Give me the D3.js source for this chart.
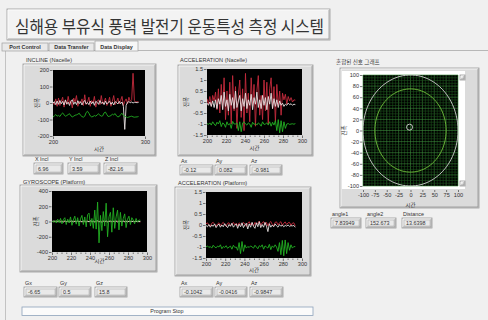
<!DOCTYPE html>
<html><head><meta charset="utf-8">
<script src="https://cdn.jsdelivr.net/npm/d3@7"></script>
<style>
body{margin:0;background:#f0f0f0;}
svg{display:block;}
text{font-family:"Liberation Sans",Arial,sans-serif;fill:#333;}
.kr{font-family:"Noto Sans CJK KR",sans-serif;}
</style></head><body>
<svg id="panel" width="488" height="320"></svg>
<script>
// ---- data ----------------------------------------------------------------
const sampleTimes = [200, 201.5, 203, 204.5, 206, 207.5, 209, 210.5, 212, 213.5,
  215, 216.5, 218, 219.5, 221, 222.5, 224, 225.5, 227, 228.5,
  230, 231.5, 233, 234.5, 236, 237.5, 239, 240.5, 242, 243.5,
  245, 246.5, 248, 249.5, 251, 252.5, 254, 255.5, 257, 258.5,
  260, 261.5, 263, 264.5, 266, 267.5, 269, 270.5, 272, 273.5,
  275, 276.5, 278, 279.5, 281, 282.5, 284, 285.5, 287, 288.5,
  290, 291.5, 293];

// INCLINE (Nacelle), degrees
const inclineX = [5, -10, 25, -20, 30, -15, 10, 35, -25, 20,
  -10, 40, -5, 15, -30, 30, 5, 45, -20, 10,
  0, 25, -15, 50, -10, 5, 35, -20, 15, 0,
  40, -25, 10, 20, -10, 45, -5, 5, 30, -15,
  0, 35, -20, 10, 45, -10, 5, 30, -5, 15,
  40, -15, 10, 25, -5, 35, 10, 20, 180, 15,
  5, 8, 6.96];
const inclineY = [0, 8, -10, 12, -8, 15, -5, 10, -12, 18,
  -6, 5, -15, 10, 20, -8, 6, -10, 14, -4,
  8, -12, 5, 16, -6, 3, -10, 12, -5, 8,
  -14, 10, 4, -8, 15, -3, 6, -10, 12, -6,
  4, 10, -8, 5, -12, 8, 3, -6, 10, -4,
  6, -20, -160, -15, 5, 8, 2, 6, 0, 4,
  3, 2, 3.59];
const inclineZ = [-85, -78, -70, -80, -75, -82, -68, -60, -72, -80,
  -76, -70, -65, -78, -84, -80, -74, -72, -68, -62,
  -75, -82, -86, -80, -58, -50, -62, -78, -84, -82,
  -76, -80, -72, -66, -74, -80, -78, -60, -55, -70,
  -82, -80, -76, -68, -72, -64, -78, -84, -82, -70,
  -62, -76, -80, -84, -88, -85, -82, -80, -84, -86,
  -85, -84, -82.16];

// ACCELERATION (Nacelle), g
const nacAx = [-0.05, -0.15, 0.0, -0.2, 0.05, -0.25, 0.1, -0.3, 0.15, -0.1,
  0.3, -0.35, 0.45, -0.2, 0.1, -0.4, 0.35, -0.15, 0.2, -0.3,
  0.5, -0.25, 0.05, 0.3, -0.4, 0.15, -0.2, 0.4, -0.3, 0.1,
  -0.15, 0.35, -0.35, 0.2, -0.1, 0.45, -0.25, 0.1, -0.3, 0.3,
  -0.15, 0.2, -0.35, 0.25, -0.1, 0.4, -0.3, 0.15, -0.2, 0.1,
  -0.25, 0.05, -0.15, -0.05, -0.2, -0.1, -0.15, -0.05, -0.12, -0.08,
  -0.15, -0.1, -0.12];
const nacAy = [0.15, -0.1, 0.25, -0.2, 0.3, 0.05, 0.45, -0.35, 0.6, -0.5,
  0.8, -0.3, 1.1, -0.8, 0.5, -0.6, 0.9, -1.0, 1.2, -0.4,
  0.7, -1.2, 0.3, 1.0, -0.7, 0.6, -1.3, 1.3, -0.5, 0.4,
  -0.9, 1.1, -0.2, 0.8, -1.1, 0.5, 1.2, -0.6, 0.3, -0.8,
  1.0, -0.4, 0.9, -1.0, 0.6, 1.1, -0.3, 0.7, -0.9, 0.8,
  -0.2, 0.5, -0.6, 0.4, 0.1, 0.35, -0.1, 0.25, 0.05, 0.2,
  0.0, 0.1, 0.082];
const nacAz = [-0.98, -1.02, -0.95, -1.05, -0.9, -1.0, -1.08, -0.92, -1.0, -0.85,
  -1.12, -0.95, -1.0, -1.15, -0.9, -1.05, -0.98, -1.2, -0.88, -1.0,
  -1.0, -0.95, -1.3, -0.9, -1.35, -0.95, -0.9, -1.0, -1.05, -0.95,
  -1.0, -1.15, -0.92, -1.02, -0.98, -1.05, -0.95, -1.0, -1.1, -0.9,
  -1.02, -1.0, -0.95, -1.05, -0.9, -1.1, -0.92, -1.05, -0.85, -1.3,
  -0.8, -1.4, -0.85, -1.35, -0.9, -1.2, -1.0, -0.98, -1.02, -1.0,
  -0.99, -1.01, -0.981];

// GYROSCOPE (Platform), deg/s
const gyroX = [2, -3, 4, -2, 3, -4, 2, 5, -3, 2,
  -4, 3, 1, -2, 4, -3, 5, -2, 3, -1,
  4, -3, 2, -4, 3, 5, -2, 3, -4, 2,
  -3, 4, -2, 5, -3, 2, 4, -2, 3, -4,
  2, -3, 4, -1, 3, -2, 5, -3, 2, -4,
  3, -2, 4, -3, 2, -1, 3, -2, 1, 2,
  -1, 1, -6.65];
const gyroY = [0, 5, -4, 6, -3, 8, -5, 4, -6, 7,
  -2, 5, -8, 3, 6, -4, 2, -6, 8, -3,
  5, -5, 4, 6, -7, 3, -4, 8, -2, 5,
  -6, 4, 10, -8, 6, -12, 5, -4, 8, -6,
  3, 6, -5, 4, -3, 7, -6, 5, 2, -4,
  6, -3, 4, -5, 3, 2, -2, 4, -3, 2,
  1, -2, 0.5];
const gyroZ = [5, -10, 15, -20, 30, -15, 40, -30, 25, 50,
  -40, 30, -15, 60, -50, 20, 70, -35, 50, -60,
  35, 80, -40, 60, -70, 90, 110, -60, 40, -90,
  150, -100, 255, -280, 80, -120, 130, -60, 240, -200,
  60, 120, -140, 180, -90, 60, 150, -110, 120, -60,
  40, 100, -80, 30, 70, -40, 50, 20, -30, 40,
  -10, 20, 15.8];

// ACCELERATION (Platform), g
const platAx = [-0.02, -0.08, 0.02, -0.1, 0.0, -0.06, 0.05, -0.12, -0.02, 0.04,
  -0.1, 0.0, -0.08, 0.06, -0.05, -0.12, 0.02, -0.06, 0.08, -0.1,
  -0.02, 0.05, -0.15, 0.04, -0.08, 0.1, -0.12, 0.0, 0.08, -0.18,
  0.05, -0.1, 0.12, -0.06, -0.15, 0.1, -0.08, 0.15, -0.12, 0.02,
  -0.1, 0.12, -0.05, -0.3, 0.06, -0.1, 0.0, -0.08, 0.05, -0.04,
  -0.1, 0.02, -0.06, 0.0, -0.08, -0.02, -0.05, 0.0, -0.06, -0.03,
  -0.04, -0.02, -0.1042];
const platAy = [0.05, 0.1, 0.0, -0.05, 0.08, 0.12, 0.02, -0.06, 0.05, 0.1,
  -0.02, 0.06, 0.12, 0.0, -0.05, 0.08, 0.1, -0.04, 0.05, 0.12,
  0.0, 0.08, -0.05, 0.1, 0.04, -0.02, 0.12, 0.05, -0.06, 0.08,
  0.15, 0.0, 0.1, -0.05, 0.12, 0.02, 0.08, 0.18, -0.02, 0.1,
  0.15, 0.0, 0.12, -0.05, 0.1, 0.16, 0.02, -0.04, 0.12, 0.14,
  0.0, 0.1, 0.15, -0.02, 0.08, 0.14, 0.02, 0.1, 0.12, -0.02,
  0.08, 0.1, -0.0416];
const platAz = [-1.0, -0.95, -1.02, -0.98, -1.05, -0.92, -1.0, -1.04, -0.96, -1.0,
  -0.9, -1.08, -0.98, -1.02, -0.94, -1.06, -1.0, -0.96, -1.1, -0.92,
  -1.02, -1.0, -1.15, -0.8, -1.3, -0.75, -1.2, -0.9, -1.05, -0.98,
  -1.02, -0.95, -1.0, -1.05, -0.92, -1.0, -1.08, -0.94, -1.0, -0.9,
  -1.1, -0.95, -1.0, -1.05, -0.88, -1.12, -0.95, -1.02, -0.9, -1.0,
  -1.2, -0.8, -1.35, -0.7, -1.4, -0.68, -1.3, -0.8, -1.15, -0.9,
  -1.05, -0.98, -0.9847];

// axis ticks
const timeTicksWide = [200, 300];
const timeTicks = [200, 220, 240, 260, 280, 300];
const inclineTicks = [-200, -100, 0, 100, 200];
const accelTicks = [-1.5, -1, -0.5, 0, 0.5, 1, 1.5];
const gyroTicks = [-400, -200, 0, 200, 400];
const mixXTicks = [-100, -75, -50, -25, 0, 25, 50, 75, 100];
const mixYTicks = [-100, -80, -60, -40, -20, 0, 20, 40, 60, 80, 100];

// mixed signal graph
const ringRadii = [100, 75];
const markerPoint = [-2, 6];
const angleLabels = ["angle1", "angle2", "Distance"];
const angleValues = ["7.83949", "152.673", "13.6398"];

// ---- drawing -------------------------------------------------------------
const svg = d3.select("#panel");
const RED = "#c42a3c", WHITE = "#e6e0e0", GREEN = "#22b022";

svg.append("rect").attr("width", 488).attr("height", 320).attr("fill", "#f0f0f0");

// raised / sunken box helper
function bevel(g, x, y, w, h, fill, raised) {
  g.append("rect").attr("x", x).attr("y", y).attr("width", w).attr("height", h)
    .attr("fill", fill).attr("stroke", "#9a9a9a").attr("stroke-width", 0.8);
  const lt = raised ? "#ffffff" : "#8a8a8a", rb = raised ? "#8a8a8a" : "#ffffff";
  g.append("path").attr("d", `M${x + 1},${y + h - 1}V${y + 1}H${x + w - 1}`)
    .attr("fill", "none").attr("stroke", lt).attr("stroke-width", 0.7);
  g.append("path").attr("d", `M${x + 1},${y + h - 1}H${x + w - 1}V${y + 1}`)
    .attr("fill", "none").attr("stroke", rb).attr("stroke-width", 0.7);
}

// header
const head = svg.append("g");
bevel(head, 7, 9, 323, 31, "#f3f3f3", true);
head.append("text").attr("class", "kr").attr("x", 15).attr("y", 33)
  .attr("font-size", 17).attr("fill", "#333").attr("textLength", 309)
  .attr("lengthAdjust", "spacingAndGlyphs").text("심해용 부유식 풍력 발전기 운동특성 측정 시스템");

// tabs
svg.append("path").attr("d", "M6,50.5H488").attr("stroke", "#a8a8a8").attr("stroke-width", 0.8);
svg.append("path").attr("d", "M5.5,50V320").attr("stroke", "#b8b8b8").attr("stroke-width", 0.8);
const tabs = [
  { label: "Port Control", x0: 2, x1: 48, active: false },
  { label: "Data Transfer", x0: 49, x1: 94, active: false },
  { label: "Data Display", x0: 95, x1: 138, active: true }
];
tabs.forEach(t => {
  const y0 = t.active ? 41 : 43;
  svg.append("rect").attr("x", t.x0).attr("y", y0).attr("width", t.x1 - t.x0).attr("height", 51 - y0)
    .attr("fill", t.active ? "#f7f7f7" : "#e9e9e9").attr("stroke", "#a0a0a0").attr("stroke-width", 0.7);
  svg.append("text").attr("x", (t.x0 + t.x1) / 2).attr("y", 48.7).attr("text-anchor", "middle")
    .attr("font-size", 5.4).attr("font-weight", "bold").attr("fill", "#222").text(t.label);
});

function styleAxis(sel) {
  sel.select(".domain").remove();
  sel.selectAll("line").attr("stroke", "#444").attr("stroke-width", 0.7);
  sel.selectAll("text").attr("font-size", 5.6).attr("fill", "#333")
    .attr("font-family", "Liberation Sans, Arial, sans-serif");
}

function indicator(g, label, value, bx, by, bw, bh) {
  g.append("text").attr("x", bx + 1).attr("y", by - 2.5).attr("font-size", 5.4).text(label);
  bevel(g, bx, by, bw, bh, "#e4e4e4", true);
  g.append("rect").attr("x", bx + 2).attr("y", by + 2).attr("width", bw - 4).attr("height", bh - 4)
    .attr("fill", "#e9e9e9").attr("stroke", "#a8a8a8").attr("stroke-width", 0.5);
  g.append("text").attr("x", bx + 4).attr("y", by + bh - 3).attr("font-size", 5.4).text(value);
}

function graph(c) {
  const g = svg.append("g");
  const [fx0, fy0, fx1, fy1] = c.frame;
  bevel(g, fx0, fy0, fx1 - fx0, fy1 - fy0, "#dbdbdb", true);
  g.append("text").attr("x", c.titleAt[0]).attr("y", c.titleAt[1]).attr("font-size", 5.6).text(c.title);

  const [px0, py0, px1, py1] = c.plot;
  const x = d3.scaleLinear().domain([200, 300]).range([px0, px1]);
  const y = d3.scaleLinear().domain([c.yTicks[0], c.yTicks[c.yTicks.length - 1]]).range([py1, py0]);
  g.append("rect").attr("x", px0).attr("y", py0).attr("width", px1 - px0).attr("height", py1 - py0).attr("fill", "#000");

  g.append("g").attr("transform", `translate(${px0 - 0.5},0)`)
    .call(d3.axisLeft(y).tickValues(c.yTicks).tickSize(2.5).tickPadding(1).tickFormat(d => String(d)))
    .call(styleAxis);
  g.append("g").attr("transform", `translate(0,${py1 + 0.5})`)
    .call(d3.axisBottom(x).tickValues(c.xTicks).tickSize(2.5).tickPadding(1).tickFormat(d => String(d)))
    .call(styleAxis);
  if (c.minor) {
    g.append("g").attr("transform", `translate(0,${py1 + 0.5})`)
      .call(d3.axisBottom(x).tickValues(d3.range(200, 300, 5).filter(v => v % 20)).tickSize(1.5).tickFormat(""))
      .call(styleAxis);
  }
  g.append("text").attr("class", "kr").attr("x", (px0 + px1) / 2).attr("y", c.xLabelY)
    .attr("text-anchor", "middle").attr("font-size", 5.4).text("시간");
  g.append("text").attr("class", "kr")
    .attr("transform", `translate(${c.yLabelX},${(py0 + py1) / 2}) rotate(-90)`)
    .attr("text-anchor", "middle").attr("font-size", 5.4).text("진폭");

  const clipId = "clip" + c.id;
  g.append("clipPath").attr("id", clipId).append("rect")
    .attr("x", px0).attr("y", py0).attr("width", px1 - px0).attr("height", py1 - py0);
  const line = d3.line().x((d, i) => x(sampleTimes[i])).y(d => y(d));
  const plot = g.append("g").attr("clip-path", `url(#${clipId})`);
  c.series.forEach(s => {
    plot.append("path").datum(s.values).attr("d", line).attr("fill", "none")
      .attr("stroke", s.color).attr("stroke-width", 0.9).attr("stroke-linejoin", "round");
  });

  c.readouts.forEach((r, i) => {
    const vals = r.values;
    indicator(g, r.label, String(vals[vals.length - 1]), c.boxX[i], c.boxY, c.boxW[i], c.boxH);
  });
}

graph({
  id: 1, title: "INCLINE (Nacelle)", titleAt: [26, 61.5],
  frame: [23, 64, 156, 156], plot: [53, 70, 145, 136],
  yTicks: inclineTicks, xTicks: timeTicksWide, minor: false, xLabelY: 151, yLabelX: 39,
  series: [{ values: inclineX, color: RED }, { values: inclineY, color: WHITE }, { values: inclineZ, color: GREEN }],
  readouts: [{ label: "X Incl", values: inclineX }, { label: "Y Incl", values: inclineY }, { label: "Z Incl", values: inclineZ }],
  boxX: [34, 68, 104], boxW: [29, 32, 33], boxY: 163, boxH: 11
});
graph({
  id: 2, title: "ACCELERATION (Nacelle)", titleAt: [180, 61.5],
  frame: [178, 65, 313, 156], plot: [207, 69, 302, 135],
  yTicks: accelTicks, xTicks: timeTicks, minor: true, xLabelY: 149.5, yLabelX: 188,
  series: [{ values: nacAy, color: RED }, { values: nacAx, color: WHITE }, { values: nacAz, color: GREEN }],
  readouts: [{ label: "Ax", values: nacAx }, { label: "Ay", values: nacAy }, { label: "Az", values: nacAz }],
  boxX: [180, 215, 250], boxW: [33, 32, 32], boxY: 165, boxH: 10
});
graph({
  id: 3, title: "GYROSCOPE (Platform)", titleAt: [23, 183.5],
  frame: [20, 185, 157, 272], plot: [52, 191, 147, 252],
  yTicks: gyroTicks, xTicks: timeTicks, minor: true, xLabelY: 263, yLabelX: 38,
  series: [{ values: gyroX, color: RED }, { values: gyroY, color: WHITE }, { values: gyroZ, color: GREEN }],
  readouts: [{ label: "Gx", values: gyroX }, { label: "Gy", values: gyroY }, { label: "Gz", values: gyroZ }],
  boxX: [24, 59, 95], boxW: [33, 32, 32], boxY: 287, boxH: 10
});
graph({
  id: 4, title: "ACCELERATION (Platform)", titleAt: [178, 184.5],
  frame: [175, 187, 311, 276], plot: [206, 192, 302, 258],
  yTicks: accelTicks, xTicks: timeTicks, minor: true, xLabelY: 271.5, yLabelX: 188,
  series: [{ values: platAy, color: RED }, { values: platAx, color: WHITE }, { values: platAz, color: GREEN }],
  readouts: [{ label: "Ax", values: platAx }, { label: "Ay", values: platAy }, { label: "Az", values: platAz }],
  boxX: [180, 215, 250], boxW: [33, 32, 33], boxY: 287, boxH: 10
});

// Program Stop button
svg.append("rect").attr("x", 22).attr("y", 307).attr("width", 291).attr("height", 8.5)
  .attr("fill", "#fbfbfb").attr("stroke", "#8da2bb").attr("stroke-width", 0.8);
svg.append("text").attr("x", 167).attr("y", 313.4).attr("text-anchor", "middle")
  .attr("font-size", 5.4).text("Program Stop");

// mixed signal graph
(function () {
  const g = svg.append("g");
  g.append("text").attr("class", "kr").attr("x", 336).attr("y", 64).attr("font-size", 5.6).text("혼합된 신호 그래프");
  bevel(g, 340, 68, 139, 140, "#dbdbdb", true);
  g.append("rect").attr("x", 342).attr("y", 71).attr("width", 123).attr("height", 118).attr("fill", "#fff");
  const px0 = 363, px1 = 458, py0 = 75, py1 = 186;
  const x = d3.scaleLinear().domain([-100, 100]).range([px0, px1]);
  const y = d3.scaleLinear().domain([-100, 100]).range([py1, py0]);
  g.append("rect").attr("x", px0).attr("y", py0).attr("width", px1 - px0).attr("height", py1 - py0).attr("fill", "#000");

  const grid = g.append("g");
  d3.range(-100, 100.1, 6.25).forEach(v => grid.append("line")
    .attr("x1", x(v)).attr("x2", x(v)).attr("y1", py0).attr("y2", py1)
    .attr("stroke", v % 25 === 0 ? "#3b8a3b" : "#1d521d").attr("stroke-width", 0.6));
  d3.range(-100, 100.1, 5).forEach(v => grid.append("line")
    .attr("y1", y(v)).attr("y2", y(v)).attr("x1", px0).attr("x2", px1)
    .attr("stroke", v % 20 === 0 ? "#3b8a3b" : "#1d521d").attr("stroke-width", 0.6));

  g.append("g").attr("transform", `translate(${px0 - 0.5},0)`)
    .call(d3.axisLeft(y).tickValues(mixYTicks).tickSize(2.5).tickPadding(1).tickFormat(d => String(d)))
    .call(styleAxis);
  g.append("g").attr("transform", `translate(0,190)`)
    .call(d3.axisBottom(x).tickValues(mixXTicks).tickSize(2).tickPadding(1.5).tickFormat(d => String(d)))
    .call(styleAxis);
  g.append("text").attr("class", "kr").attr("x", (px0 + px1) / 2).attr("y", 206.5)
    .attr("text-anchor", "middle").attr("font-size", 5.4).text("시간");
  g.append("text").attr("class", "kr").attr("transform", `translate(346,${(py0 + py1) / 2}) rotate(-90)`)
    .attr("text-anchor", "middle").attr("font-size", 5.4).text("진폭");

  // scroll buttons
  [[460, 75], [460, 181]].forEach(([bx, by]) => bevel(g, bx, by, 5, 5, "#e0e0e0", true));

  const clip = g.append("clipPath").attr("id", "clipMix");
  clip.append("rect").attr("x", px0).attr("y", py0).attr("width", px1 - px0).attr("height", py1 - py0);
  const rings = g.append("g").attr("clip-path", "url(#clipMix)");
  const steps = d3.range(0, 361, 4).map(a => a * Math.PI / 180);
  const ringColors = ["#cfcfcf", "#72c23c"];
  ringRadii.forEach((r, i) => {
    rings.append("path").datum(steps)
      .attr("d", d3.line().x(a => x(r * Math.cos(a))).y(a => y(r * Math.sin(a))))
      .attr("fill", "none").attr("stroke", ringColors[i]).attr("stroke-width", 0.9);
  });
  rings.append("circle").attr("cx", x(markerPoint[0])).attr("cy", y(markerPoint[1])).attr("r", 3)
    .attr("fill", "none").attr("stroke", "#e8e8e8").attr("stroke-width", 0.8);

  const bxs = [331, 366, 402];
  angleLabels.forEach((l, i) => indicator(g, l, angleValues[i], bxs[i], 218, 30, 10));
})();
</script></body></html>
